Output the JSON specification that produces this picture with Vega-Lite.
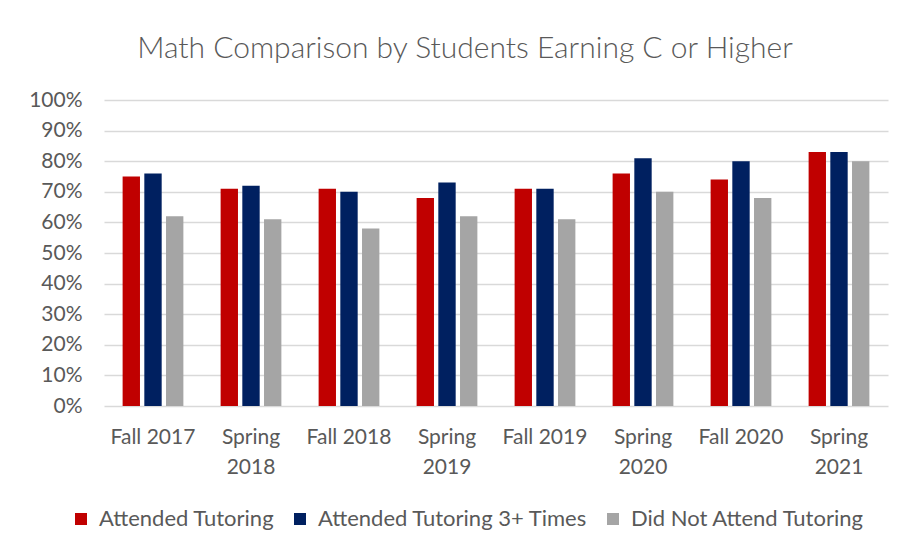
{
  "$schema": "https://vega.github.io/schema/vega-lite/v6.json",
  "width": 784,
  "height": 306,
  "autosize": {"type": "none"},
  "padding": {"left": 104, "top": 100, "right": 16, "bottom": 146},
  "background": "white",
  "title": {
    "text": "Math Comparison by Students Earning C or Higher",
    "anchor": "middle",
    "dx": -31,
    "offset": 25,
    "fontSize": 30,
    "fontWeight": 300,
    "font": "Lato",
    "color": "#595959"
  },
  "data": {
    "values": [
      {"term": "Fall 2017", "group": "Attended Tutoring", "rate": 0.75},
      {"term": "Fall 2017", "group": "Attended Tutoring 3+ Times", "rate": 0.76},
      {"term": "Fall 2017", "group": "Did Not Attend Tutoring", "rate": 0.62},
      {"term": "Spring 2018", "group": "Attended Tutoring", "rate": 0.71},
      {"term": "Spring 2018", "group": "Attended Tutoring 3+ Times", "rate": 0.72},
      {"term": "Spring 2018", "group": "Did Not Attend Tutoring", "rate": 0.61},
      {"term": "Fall 2018", "group": "Attended Tutoring", "rate": 0.71},
      {"term": "Fall 2018", "group": "Attended Tutoring 3+ Times", "rate": 0.70},
      {"term": "Fall 2018", "group": "Did Not Attend Tutoring", "rate": 0.58},
      {"term": "Spring 2019", "group": "Attended Tutoring", "rate": 0.68},
      {"term": "Spring 2019", "group": "Attended Tutoring 3+ Times", "rate": 0.73},
      {"term": "Spring 2019", "group": "Did Not Attend Tutoring", "rate": 0.62},
      {"term": "Fall 2019", "group": "Attended Tutoring", "rate": 0.71},
      {"term": "Fall 2019", "group": "Attended Tutoring 3+ Times", "rate": 0.71},
      {"term": "Fall 2019", "group": "Did Not Attend Tutoring", "rate": 0.61},
      {"term": "Spring 2020", "group": "Attended Tutoring", "rate": 0.76},
      {"term": "Spring 2020", "group": "Attended Tutoring 3+ Times", "rate": 0.81},
      {"term": "Spring 2020", "group": "Did Not Attend Tutoring", "rate": 0.70},
      {"term": "Fall 2020", "group": "Attended Tutoring", "rate": 0.74},
      {"term": "Fall 2020", "group": "Attended Tutoring 3+ Times", "rate": 0.80},
      {"term": "Fall 2020", "group": "Did Not Attend Tutoring", "rate": 0.68},
      {"term": "Spring 2021", "group": "Attended Tutoring", "rate": 0.83},
      {"term": "Spring 2021", "group": "Attended Tutoring 3+ Times", "rate": 0.83},
      {"term": "Spring 2021", "group": "Did Not Attend Tutoring", "rate": 0.80}
    ]
  },
  "mark": {"type": "bar"},
  "encoding": {
    "x": {
      "field": "term",
      "type": "nominal",
      "sort": null,
      "title": null,
      "scale": {"paddingInner": 0.38, "paddingOuter": 0.19},
      "axis": {
        "labelAngle": 0,
        "domain": false,
        "ticks": false,
        "labelPadding": 31,
        "labelBaseline": "middle",
        "labelFontSize": 21,
        "labelFont": "Lato",
        "labelColor": "#595959",
        "labelLineHeight": 30,
        "labelExpr": "indexof(datum.label, 'Spring') == 0 ? split(datum.label, ' ') : datum.label"
      }
    },
    "xOffset": {
      "field": "group",
      "type": "nominal",
      "scale": {"paddingInner": 0.2}
    },
    "y": {
      "field": "rate",
      "type": "quantitative",
      "title": null,
      "scale": {"domain": [0, 1]},
      "axis": {
        "values": [0, 0.1, 0.2, 0.3, 0.4, 0.5, 0.6, 0.7, 0.8, 0.9, 1],
        "format": ".0%",
        "domain": false,
        "ticks": false,
        "labelPadding": 22,
        "labelFontSize": 21,
        "labelFont": "Lato",
        "labelColor": "#595959",
        "gridColor": "#d9d9d9",
        "gridWidth": 1.5
      }
    },
    "color": {
      "field": "group",
      "type": "nominal",
      "title": null,
      "scale": {
        "domain": ["Attended Tutoring", "Attended Tutoring 3+ Times", "Did Not Attend Tutoring"],
        "range": ["#C00000", "#002060", "#A5A5A5"]
      },
      "legend": {
        "orient": "none",
        "direction": "horizontal",
        "legendX": -34,
        "legendY": 408,
        "symbolType": "square",
        "symbolSize": 144,
        "symbolStrokeWidth": 0,
        "labelFontSize": 22,
        "labelFont": "Lato",
        "labelColor": "#595959",
        "labelLimit": 400,
        "labelOffset": 7,
        "columnPadding": 14
      }
    }
  },
  "config": {
    "view": {"stroke": null}
  }
}
